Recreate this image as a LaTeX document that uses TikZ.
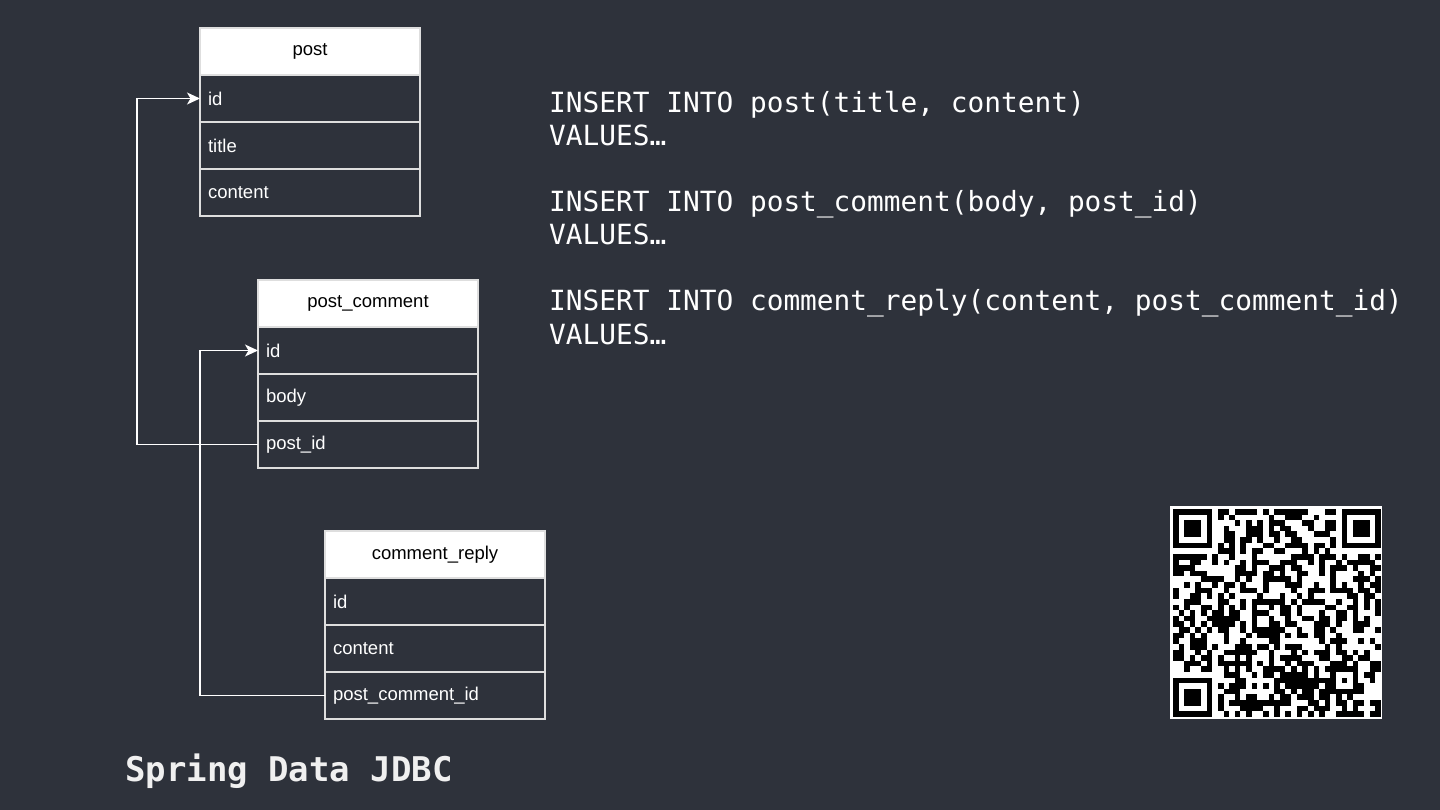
\documentclass[tikz,border=0pt]{standalone}
\usepackage{fontspec}
\setmainfont{Liberation Sans}
\newfontfamily\codefont{DejaVu Sans Mono}
\usetikzlibrary{arrows.meta,positioning}
\definecolor{slate}{RGB}{46,50,59}
\definecolor{rule}{RGB}{222,222,222}
\newcommand{\qrm}{5.62}
\newcommand{\finderat}[2]{%
    \fill[white] ({1173+(#1-1)*\qrm},{509+(#2-1)*\qrm}) rectangle ++(50.58,50.58);
    \fill[black] ({1173+#1*\qrm},{509+#2*\qrm}) rectangle ++(39.34,39.34);
    \fill[white] ({1173+(#1+1)*\qrm},{509+(#2+1)*\qrm}) rectangle ++(28.1,28.1);
    \fill[black] ({1173+(#1+2)*\qrm},{509+(#2+2)*\qrm}) rectangle ++(16.86,16.86);}

\begin{document}
\begin{tikzpicture}[x=1pt,y=-1pt,
    hdr/.style={draw=rule,line width=1.2pt,fill=white,text=black,minimum width=220pt,
        minimum height=47pt,outer sep=0pt,font=\fontsize{18.5}{22}\selectfont},
    fld/.style={hdr,fill=slate,text=white,text width=204pt,align=left,inner xsep=8pt},
    link/.style={draw=white,line width=1.2pt,-{Stealth[length=13pt,width=12pt,inset=3.5pt]}},
    sql/.style={anchor=base west,inner sep=0pt,align=left,text=white,
        font=\codefont\fontsize{27.8}{33}\selectfont}]

    \fill[slate] (0,0) rectangle (1440,810);

    % tables
    \node[hdr,anchor=north west] (post) at (200,28) {post};
    \node[fld,below=0pt of post] (post-id) {id};
    \node[fld,below=0pt of post-id] (post-title) {title};
    \node[fld,below=0pt of post-title] (post-content) {content};

    \node[hdr,anchor=north west] (pc) at (258,280) {post\_comment};
    \node[fld,below=0pt of pc] (pc-id) {id};
    \node[fld,below=0pt of pc-id] (pc-body) {body};
    \node[fld,below=0pt of pc-body] (pc-postid) {post\_id};

    \node[hdr,anchor=north west] (cr) at (325,531) {comment\_reply};
    \node[fld,below=0pt of cr] (cr-id) {id};
    \node[fld,below=0pt of cr-id] (cr-content) {content};
    \node[fld,below=0pt of cr-content] (cr-pcid) {post\_comment\_id};

    % foreign keys
    \coordinate (lane1) at (137,0);
    \coordinate (lane2) at (200,0);
    \draw[link] (pc-postid.west) -- (pc-postid.west -| lane1) -- (post-id.west -| lane1) -- (post-id.west);
    \draw[link] (cr-pcid.west) -- (cr-pcid.west -| lane2) -- (pc-id.west -| lane2) -- (pc-id.west);

    % statements
    \node[sql] (sql1) at (549,146) {INSERT INTO post(title, content)\\VALUES…};
    \node[sql] (sql2) at (549,245) {INSERT INTO post\_comment(body, post\_id)\\VALUES…};
    \node[sql] (sql3) at (549,344) {INSERT INTO comment\_reply(content, post\_comment\_id)\\VALUES…};

    \node[anchor=base west,inner sep=0pt,text={rgb,255:red,240;green,240;blue,240},
        font=\codefont\bfseries\fontsize{34}{40}\selectfont] (title) at (125,781) {Spring Data JDBC};

    % qr code
    \fill[white] (1170,506) rectangle (1382,719);
    \begin{scope}
    \clip (1173,509) rectangle ++(208,208);
    \pgfmathsetseed{4}
    \foreach \i in {0,...,36}{
        \foreach \j in {0,...,36}{
            \pgfmathrandominteger{\qbit}{0}{1}
            \ifnum\qbit=1 \fill[black] ({1173+\i*\qrm},{509+\j*\qrm}) rectangle ++(\qrm,\qrm); \fi
        }
    }
    \finderat{0}{0}
    \finderat{30}{0}
    \finderat{0}{30}
    \fill[black] ({1173+28*\qrm},{509+28*\qrm}) rectangle ++(28.1,28.1);
    \fill[white] ({1173+29*\qrm},{509+29*\qrm}) rectangle ++(16.86,16.86);
    \fill[black] ({1173+30*\qrm},{509+30*\qrm}) rectangle ++(\qrm,\qrm);
    \end{scope}
\end{tikzpicture}
\end{document}
